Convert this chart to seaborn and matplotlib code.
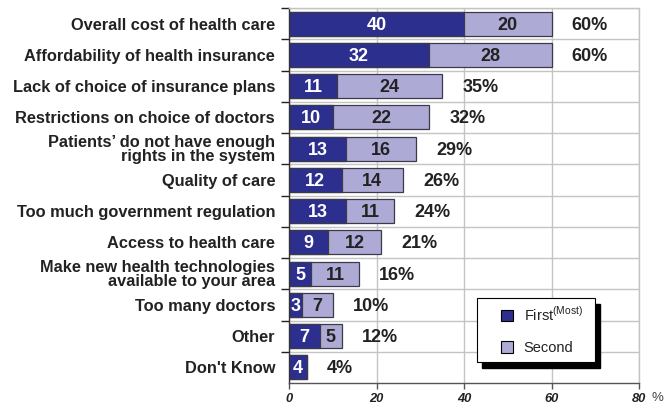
import matplotlib
matplotlib.use("Agg")
import matplotlib.pyplot as plt
import seaborn as sns
import pandas as pd
from matplotlib.patches import Patch, Rectangle
from matplotlib.ticker import FixedLocator

# Survey data: share naming each issue as first (most) and second concern
categories = [
    "Overall cost of health care",
    "Affordability of health insurance",
    "Lack of choice of insurance plans",
    "Restrictions on choice of doctors",
    "Patients\u2019 do not have enough\nrights in the system",
    "Quality of care",
    "Too much government regulation",
    "Access to health care",
    "Make new health technologies\navailable to your area",
    "Too many doctors",
    "Other",
    "Don't Know",
]
first = [40, 32, 11, 10, 13, 12, 13, 9, 5, 3, 7, 4]
second = [20, 28, 24, 22, 16, 14, 11, 12, 11, 7, 5, 0]
x_ticks = [0, 20, 40, 60, 80]
legend_labels = ["First$^{\\rm (Most)}$", "Second"]

DARK = "#2d2f8e"
LIGHT = "#aeaad6"
EDGE = "#3a3a48"
GRID = "#c4c4c4"
TEXT = "#222222"

sns.set_theme(style="white")
plt.rcParams["font.family"] = ["Liberation Sans", "DejaVu Sans"]
plt.rcParams["mathtext.fontset"] = "custom"
plt.rcParams["mathtext.rm"] = "Liberation Sans"

df = pd.DataFrame({"category": categories, "first": first, "second": second})
df["total"] = df["first"] + df["second"]

fig = plt.figure(figsize=(6.65, 4.09), dpi=100)
W, H = 665, 409
ax = fig.add_axes([289 / W, 1 - 383 / H, 350 / W, 375 / H])

# stacked bars: full total in light colour, first-choice segment on top
sns.barplot(data=df, y="category", x="total", orient="h", color=LIGHT,
            saturation=1, edgecolor=EDGE, linewidth=0.9, width=0.77, ax=ax)
sns.barplot(data=df, y="category", x="first", orient="h", color=DARK,
            saturation=1, edgecolor=EDGE, linewidth=0.9, width=0.77, ax=ax)

dy = 0.05  # nudge labels onto the optical centre of each bar
for i, row in df.iterrows():
    ax.text(row["first"] / 2, i + dy, f"{row['first']}", color="white",
            ha="center", va="center", fontsize=13, fontweight="bold")
    if row["second"] > 0:
        ax.text(row["first"] + row["second"] / 2, i + dy, f"{row['second']}",
                color=TEXT, ha="center", va="center", fontsize=13, fontweight="bold")
    ax.text(row["total"] + 4.6, i + dy, f"{row['total']}%", color=TEXT,
            ha="left", va="center", fontsize=13, fontweight="bold")

ax.set_xlim(0, 80)
ax.set_ylim(len(categories) - 0.5, -0.5)
ax.set_xlabel("")
ax.set_ylabel("")

ax.set_xticks(x_ticks)
ax.set_xticklabels([str(t) for t in x_ticks], fontsize=9.3,
                   fontweight="bold", fontstyle="italic", color=TEXT)
ax.tick_params(axis="x", length=4, width=1, color="#555555", pad=3, bottom=True)

ax.set_yticks(range(len(categories)))
ax.set_yticklabels(categories, fontsize=11.8, fontweight="bold", color=TEXT)
for lbl in ax.get_yticklabels():
    lbl.set_linespacing(0.9)
ax.tick_params(axis="y", which="major", length=0, pad=10)
ax.yaxis.set_minor_locator(FixedLocator([i - 0.5 for i in range(len(categories))]))
ax.tick_params(axis="y", which="minor", length=6, width=1, color="#222222", left=True)

ax.set_axisbelow(True)
ax.grid(axis="x", which="major", color=GRID, lw=1)
ax.grid(axis="y", which="minor", color=GRID, lw=1)
ax.grid(axis="y", which="major", visible=False)

ax.spines["left"].set_color("#333333")
ax.spines["bottom"].set_color("#555555")
ax.spines["top"].set_color(GRID)
ax.spines["right"].set_color(GRID)
for s in ax.spines.values():
    s.set_linewidth(1)

fig.text(657 / W, 1 - 398 / H, "%", ha="center", va="center", fontsize=9.5, color="#444444")

# legend box with a solid drop shadow
bx, by, bw, bh = 477, 298, 118, 64
fig.add_artist(Rectangle(((bx + 5) / W, 1 - (by + bh + 6) / H), bw / W, bh / H,
                         transform=fig.transFigure, facecolor="black",
                         edgecolor="black", zorder=3))
fig.add_artist(Rectangle((bx / W, 1 - (by + bh) / H), bw / W, bh / H,
                         transform=fig.transFigure, facecolor="white",
                         edgecolor="black", lw=0.8, zorder=4))
handles = [Patch(facecolor=DARK, edgecolor="black", lw=0.8),
           Patch(facecolor=LIGHT, edgecolor="black", lw=0.8)]
leg = fig.legend(handles, legend_labels, loc="center left",
                 bbox_to_anchor=(501 / W, 1 - 330 / H), bbox_transform=fig.transFigure,
                 frameon=False, fontsize=10.5, borderpad=0, borderaxespad=0,
                 labelspacing=1.2, handlelength=0.85, handleheight=0.85,
                 handletextpad=0.7)
leg.set_zorder(5)
for t in leg.get_texts():
    t.set_color(TEXT)

fig.savefig("out.png", dpi=100)
